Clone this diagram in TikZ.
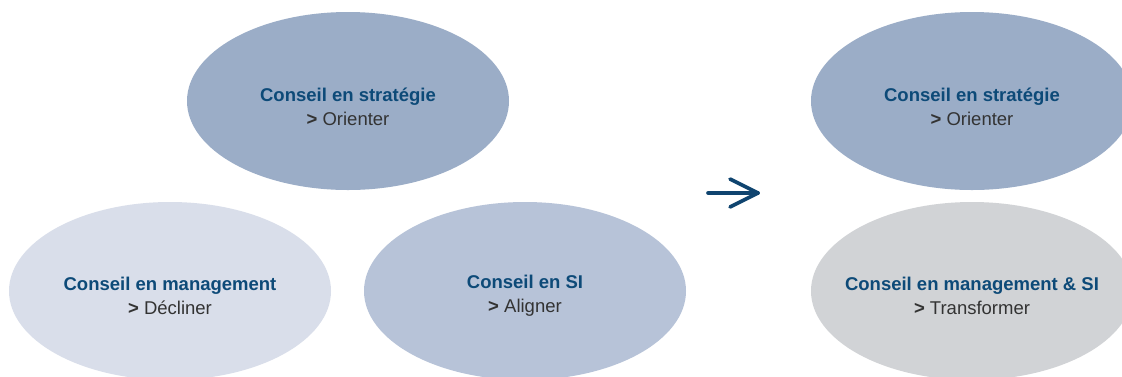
\documentclass[tikz,border=0pt]{standalone}
\usepackage{fontspec}
\setmainfont{Liberation Sans}
\usetikzlibrary{shapes.geometric}
\definecolor{ctop}{HTML}{9BADC7}
\definecolor{clight}{HTML}{D9DEEA}
\definecolor{cmid}{HTML}{B7C3D8}
\definecolor{cgrey}{HTML}{D1D3D6}
\definecolor{ctitle}{HTML}{0D4A78}
\definecolor{ctext}{HTML}{333333}
\definecolor{carrow}{HTML}{0F446F}
\tikzset{
  blob/.style={ellipse, draw=none, minimum width=322pt, minimum height=178pt, inner sep=0pt},
  lbl/.style={align=center, font=\fontsize{18.5}{24}\selectfont, text=ctext, inner sep=0pt},
  arr/.style={carrow, line width=3.6pt, line cap=round, line join=round},
}
\newcommand{\ttl}[1]{{\bfseries\color{ctitle}#1}}
\newcommand{\gt}{{\bfseries >}}
\begin{document}
\begin{tikzpicture}[x=1pt,y=-1pt]
\useasboundingbox (0,0) rectangle (1122,376);
\clip (0,0) rectangle (1122,376);
\fill[white] (0,0) rectangle (1122,376);
\node[blob, fill=ctop] (e1) at (348,101) {};
\node[blob, fill=clight] (e2) at (170,291) {};
\node[blob, fill=cmid] (e3) at (525,291) {};
\node[blob, fill=ctop] (e4) at (972,101) {};
\node[blob, fill=cgrey] (e5) at (972,291) {};
\node[lbl] (t1) at (348,107) {\ttl{Conseil en stratégie}\\\gt\ Orienter};
\node[lbl] (t2) at (170,296) {\ttl{Conseil en management}\\\gt\ Décliner};
\node[lbl] (t3) at (525,296) {\ttl{Conseil en SI}\\\gt\ Aligner};
\node[lbl] (t4) at (972,107) {\ttl{Conseil en stratégie}\\\gt\ Orienter};
\node[lbl] (t5) at (972,296) {\ttl{Conseil en management \& SI}\\\gt\ Transformer};
\coordinate (a1) at (708,193);
\coordinate (a2) at (758,193);
\coordinate (h1) at (730,179);
\coordinate (h2) at (730,207);
\draw[arr] (a1) -- (a2);
\draw[arr] (h1) -- (a2) -- (h2);
\end{tikzpicture}
\end{document}
